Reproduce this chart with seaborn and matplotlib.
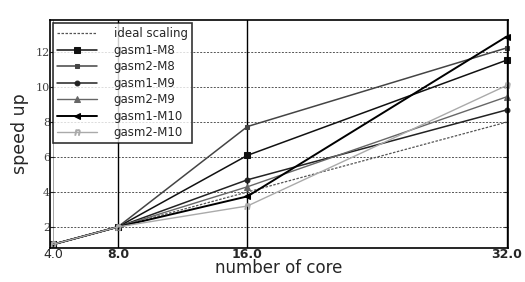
import numpy as np
import pandas as pd
import matplotlib
matplotlib.use("Agg")
import matplotlib.pyplot as plt
import seaborn as sns

cores = [4, 8, 16, 32]
ideal = [1, 2, 4, 8]
gasm1_m8 = [1, 2, 6.1, 11.55]
gasm2_m8 = [1, 2, 7.75, 12.25]
gasm1_m9 = [1, 2, 4.7, 8.7]
gasm2_m9 = [1, 2, 4.3, 9.45]
gasm1_m10 = [1, 2, 3.75, 12.9]
gasm2_m10 = [1, 2, 3.2, 10.1]

series = {
    "gasm1-M8": gasm1_m8, "gasm2-M8": gasm2_m8, "gasm1-M9": gasm1_m9,
    "gasm2-M9": gasm2_m9, "gasm1-M10": gasm1_m10, "gasm2-M10": gasm2_m10,
}
styles = {
    "gasm1-M8": dict(color="#111111", marker="s", ms=5, lw=1.1),
    "gasm2-M8": dict(color="#444444", marker="s", ms=3.5, lw=1.1),
    "gasm1-M9": dict(color="#222222", marker="o", ms=3.5, lw=1.1),
    "gasm2-M9": dict(color="#666666", marker="^", ms=4, lw=1.0),
    "gasm1-M10": dict(color="#000000", marker="<", ms=5, lw=1.4),
    "gasm2-M10": dict(color="#aaaaaa", marker="$n$", ms=4, lw=1.0),
}

sns.set_style("white")
fig = plt.figure(figsize=(5.25, 2.82), dpi=100)
ax = fig.add_axes([0.095, 0.121, 0.873, 0.808])

df = pd.DataFrame({"core": cores, "speed": ideal})
sns.lineplot(data=df, x="core", y="speed", ax=ax, color="#555555", lw=0.9,
             linestyle=(0, (2, 1.2)), label="ideal scaling")
for name, vals in series.items():
    st = styles[name]
    d = pd.DataFrame({"core": cores, "speed": vals})
    sns.lineplot(data=d, x="core", y="speed", ax=ax, color=st["color"],
                 marker=st["marker"], markersize=st["ms"], lw=st["lw"],
                 markeredgecolor=st["color"], label=name, clip_on=False)

ax.set_xlim(3.8, 32.1)
ax.set_ylim(0.8, 13.85)
ax.set_xticks(cores)
ax.set_xticklabels(["4.0", "8.0", "16.0", "32.0"])
for i, t in enumerate(ax.get_xticklabels()):
    t.set_fontweight("normal" if i == 0 else "bold")
    t.set_fontsize(9)
ax.set_yticks([2, 4, 6, 8, 10, 12])
ax.set_yticklabels(["2", "4", "6", "8", "10", "12"], family="DejaVu Serif",
                   fontsize=8, color="#444444")
ax.tick_params(axis="x", length=0, pad=0)
ax.tick_params(axis="y", direction="in", length=3, pad=0, right=True, left=True)

for y in [2, 4, 6, 8, 10, 12]:
    ax.axhline(y, color="#555555", lw=0.7, ls=(0, (2, 1.5)), zorder=0)
for x in [8, 16, 32]:
    ax.axvline(x, color="black", lw=1.0, zorder=0)
ax.axvline(4, color="#999999", lw=0.6, zorder=0)

for s in ax.spines.values():
    s.set_color("black")
    s.set_linewidth(1.2)

ax.set_xlabel("number of core", fontsize=12, labelpad=-1)
ax.set_ylabel("speed up", fontsize=12.5, labelpad=5)

leg = ax.legend(loc="upper left", fontsize=8.5, frameon=True, fancybox=False,
                edgecolor="black", handlelength=3.4, labelspacing=0.3,
                borderpad=0.35, borderaxespad=0.25, handletextpad=1.4)
leg.get_frame().set_linewidth(1.2)

fig.savefig("out.png", dpi=100)
